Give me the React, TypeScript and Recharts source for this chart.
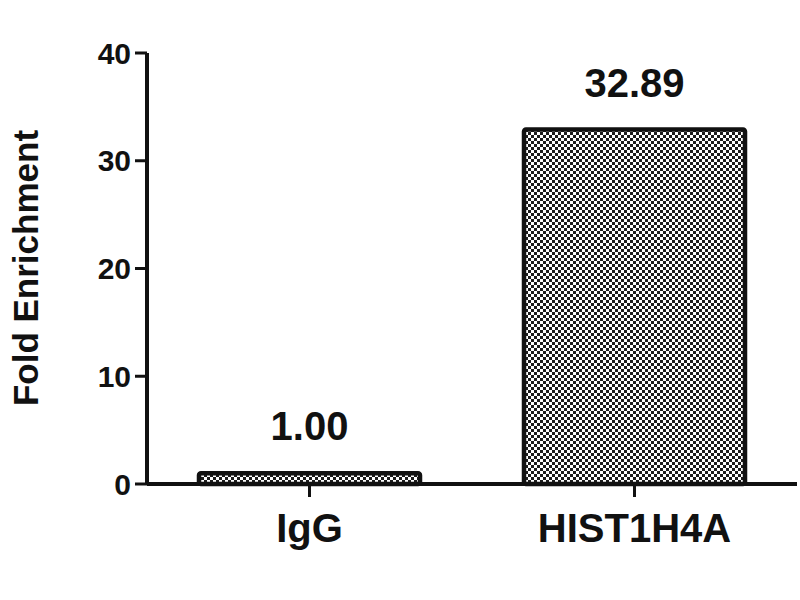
import React from 'react';
import { BarChart, Bar, XAxis, YAxis, LabelList } from 'recharts';

const categories = ['IgG', 'HIST1H4A'];
const foldEnrichment = [1.0, 32.89];
const yTicks = [0, 10, 20, 30, 40];

const data = categories.map((name, i) => ({ name, value: foldEnrichment[i] }));

const FONT = '"Liberation Sans", Arial, Helvetica, sans-serif';

const YLabel = () => (
  <text
    x={25}
    y={268}
    transform="rotate(-90 25 268)"
    textAnchor="middle"
    dominantBaseline="central"
    fontFamily={FONT}
    fontWeight="bold"
    fontSize={35}
    fill="#111"
  >
    Fold Enrichment
  </text>
);

export default function App() {
  return (
    <div style={{ position: 'absolute', left: 0, top: 0, width: 800, height: 600, background: '#fff' }}>
      <BarChart
        width={800}
        height={600}
        data={data}
        margin={{ top: 53, right: 3, bottom: 0, left: 0 }}
        barCategoryGap="16%"
      >
        <defs>
          <pattern id="checker" x="0" y="0" width="6" height="6" patternUnits="userSpaceOnUse">
            <rect width="6" height="6" fill="#ffffff" />
            <rect x="0" y="0" width="3" height="3" fill="#1c1c1c" />
            <rect x="3" y="3" width="3" height="3" fill="#1c1c1c" />
          </pattern>
        </defs>
        <XAxis
          dataKey="name"
          height={116}
          axisLine={{ stroke: '#111', strokeWidth: 4 }}
          tickLine={{ stroke: '#111', strokeWidth: 3 }}
          tickSize={13}
          tickMargin={17}
          tick={{ fill: '#111', fontSize: 40, fontWeight: 'bold', fontFamily: FONT }}
        />
        <YAxis
          width={147}
          domain={[0, 40]}
          ticks={yTicks}
          interval={0}
          axisLine={{ stroke: '#111', strokeWidth: 4 }}
          tickLine={{ stroke: '#111', strokeWidth: 3 }}
          tickSize={12}
          tickMargin={4}
          tick={{ fill: '#111', fontSize: 30, fontWeight: 'bold', fontFamily: FONT }}
          label={{ content: () => <YLabel /> }}
        />
        <Bar
          dataKey="value"
          fill="url(#checker)"
          stroke="#111"
          strokeWidth={4.5}
          radius={2}
          isAnimationActive={false}
        >
          <LabelList
            dataKey="value"
            position="top"
            offset={33}
            formatter={(v: number) => Number(v).toFixed(2)}
            style={{ fill: '#111', fontSize: 40, fontWeight: 'bold', fontFamily: FONT }}
          />
        </Bar>
      </BarChart>
    </div>
  );
}
